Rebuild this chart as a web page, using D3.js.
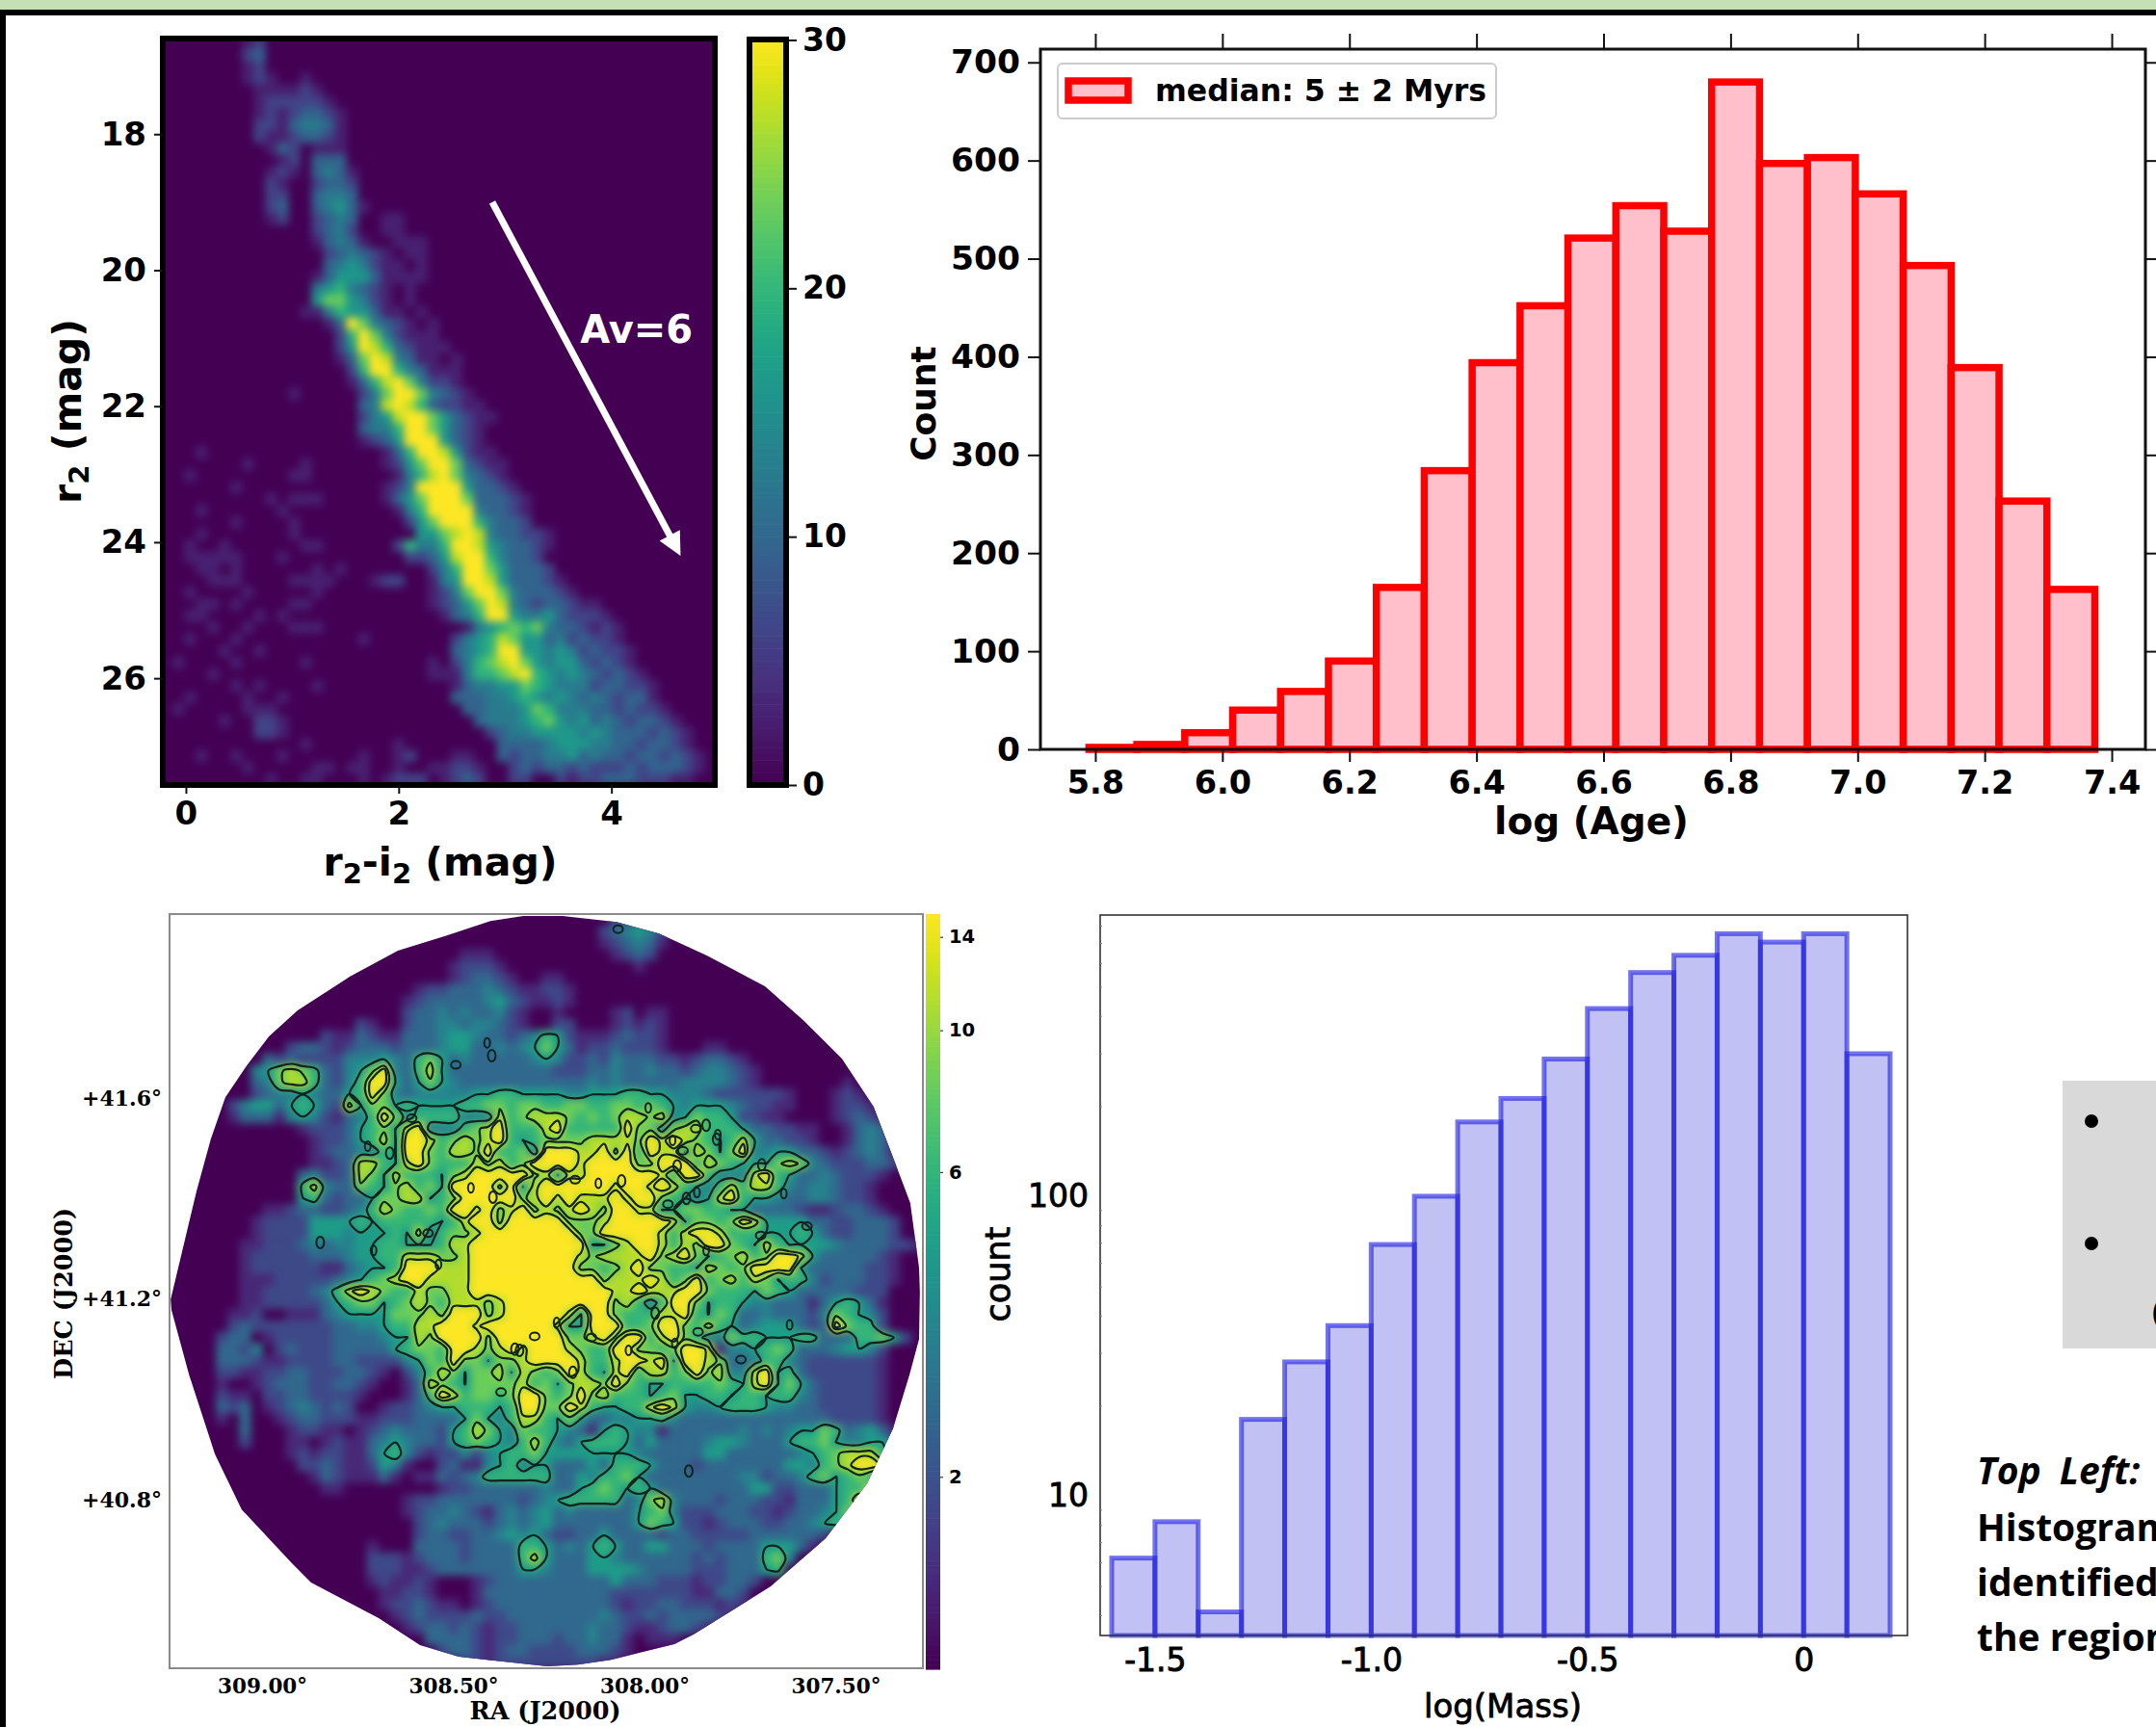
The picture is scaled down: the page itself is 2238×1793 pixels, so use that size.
<!DOCTYPE html>
<html><head><meta charset="utf-8">
<script src="https://cdn.jsdelivr.net/npm/d3@7"></script>
<style>html,body{margin:0;padding:0;background:#fff;overflow:hidden}svg{display:block}</style>
</head><body><svg id="chart" width="2238" height="1793" xmlns="http://www.w3.org/2000/svg"></svg>
<script>
// ---------- Data ----------
const ageBinStart = 5.79, ageBinWidth = 0.0754;
const ageCounts = [2,5,17,40,59,90,165,284,394,452,521,554,528,680,597,603,566,493,389,253,163];
const ageTicks = [5.8,6.0,6.2,6.4,6.6,6.8,7.0,7.2,7.4];
const ageCountTicks = [0,100,200,300,400,500,600,700];
const massBinStart = -1.6, massBinWidth = 0.1;
const massCounts = [6.2,8.2,4.1,18,28,37,69,100,177,212,287,423,558,637,752,705,752,299];
const massTicks = [-1.5,-1,-0.5,0];
const massCountTicks = [10,100];
const massMinorTicks = [4,5,6,7,8,9,20,30,40,50,60,70,80,90,200,300,400,500,600,700,800];
const cmdXTicks = [0,2,4], cmdYTicks = [18,20,22,24,26], cmdBarTicks = [0,10,20,30];
const raTicks = [309,308.5,308,307.5], decTicks = [41.6,41.2,40.8], mapBarTicks = [2,6,10,14];
// digit -> stars per bin
const cmdCounts = [0,2.6,6,9.5,12.5,16,19.5,23,27,31];
// colour-magnitude density, rows top to bottom, 48 columns
const cmdRows = [
"00000 00120 00000 00000 00000 00000 00000 00000 00000 000",
"00000 00230 00000 00000 00000 00000 00000 00000 00000 000",
"00000 00120 00000 00000 00000 00000 00000 00000 00000 000",
"00000 00121 00100 00000 00000 00000 00000 00000 00000 000",
"00000 00011 11210 00000 00000 00000 00000 00000 00000 000",
"00000 00012 22221 00000 00000 00000 00000 00000 00000 000",
"00000 00012 12332 10000 00000 00000 00000 00000 00000 000",
"00000 00022 13443 10000 00000 00000 00000 00000 00000 000",
"00000 00021 12332 10000 00000 00000 00000 00000 00000 000",
"00000 00001 32011 10000 00000 00000 00000 00000 00000 000",
"00000 00000 12033 30000 00000 00000 00000 00000 00000 000",
"00000 00001 21034 31000 00000 00000 00000 00000 00000 000",
"00000 00002 10023 32000 00000 00000 00000 00000 00000 000",
"00000 00002 20034 43000 00000 00000 00000 00000 00000 000",
"00000 00002 30034 53100 00000 00000 00000 00000 00000 000",
"00000 00001 20023 43001 10000 00000 00000 00000 00000 000",
"00000 00000 00023 42001 10000 00000 00000 00000 00000 000",
"00000 00000 00013 43100 11100 00000 00000 00000 00000 000",
"00000 00000 00002 34321 01100 00000 00000 00000 00000 000",
"00000 00000 00003 45421 10100 00000 00000 00000 00000 000",
"00000 00000 00013 55531 11100 00000 00000 00000 00000 000",
"00000 00000 00045 64321 01000 00000 00000 00000 00000 000",
"00000 00000 00057 75421 01000 00000 00000 00000 00000 000",
"00000 00000 00114 65531 10100 00000 00000 00000 00000 000",
"00000 00000 00001 39743 21010 00000 00000 00000 00000 000",
"00000 00000 00000 26974 21110 00000 00000 00000 00000 000",
"00000 00000 00000 25986 32111 00000 00000 00000 00000 000",
"00000 00000 00000 13798 43110 10000 00000 00000 00000 000",
"00000 00000 00000 02699 64311 10000 00000 00000 00000 000",
"00000 00000 00000 01368 97422 10000 00000 00000 00000 000",
"00000 00000 01000 00247 99743 21000 00000 00000 00000 000",
"00000 00000 00000 00348 98632 21100 00000 00000 00000 000",
"00000 00000 00000 00245 89975 32110 00000 00000 00000 000",
"00000 00000 00000 00344 69975 32100 00000 00000 00000 000",
"00000 00000 00000 00123 59995 32100 00000 00000 00000 000",
"00010 00000 00000 00001 36998 52110 00000 00000 00000 000",
"00000 00100 00100 00001 25799 73211 00000 00000 00000 000",
"00100 00000 01100 00000 14689 74321 00000 00000 00000 000",
"00000 01000 00000 00001 24999 95332 10000 00000 00000 000",
"00000 00001 01110 00001 35799 97333 21000 00000 00000 000",
"00010 00000 10000 00000 14699 99433 21000 00000 00000 000",
"00000 01000 01000 00000 02579 99643 32000 00000 00000 000",
"00010 00000 01000 00000 00557 89843 32210 00000 00000 000",
"00100 10000 00110 00000 26446 99854 33210 00000 00000 000",
"00111 11000 10000 00000 02235 89964 33200 00000 00000 000",
"00011 01000 00010 10000 00024 69975 33320 00000 00000 000",
"00001 11000 01111 00012 20014 59985 33321 00000 00000 000",
"00100 00100 00010 00000 00012 47997 43332 10000 00000 000",
"00011 01000 01100 00000 00012 35798 43233 21100 00000 000",
"00110 00010 10000 00000 00001 34699 54453 22210 00000 000",
"00001 00100 01110 00000 00000 01456 76743 32121 00000 000",
"00100 01000 00000 00100 00000 24568 75534 23221 00000 000",
"00000 10010 00000 00000 00000 34569 95545 42322 10000 000",
"01000 01000 00100 00000 00010 24678 97545 53232 10000 000",
"00001 00000 00000 00000 00011 14667 89654 54323 21000 000",
"00000 01010 00010 00000 00000 13445 57654 44233 22100 000",
"00100 00100 10000 00000 00000 33344 56545 43432 33100 000",
"01000 00111 00000 00000 00000 03344 45764 44332 32210 000",
"00000 10022 10000 00000 00000 00344 45675 45343 23321 000",
"00000 00022 10000 00000 00000 00023 44555 54543 33232 100",
"00000 00000 00100 00000 10000 00003 33345 55443 32332 100",
"00010 01000 10000 00100 12000 11003 23344 53433 23323 210",
"00000 00100 00011 01100 10011 22100 23233 23222 32333 210",
"00000 00001 00110 00101 22201 23200 22002 12233 32221 100"
];
// digit -> sources per beam (log colour scale)
const mapCounts = [1,1.35,1.83,2.47,3.33,4.5,6.08,8.2,11.1,15.2];
// surface density, rows top to bottom, 65 columns
const mapRows = [
"00000 00000 00000 00000 00000 00000 00000 00022 32000 00000 00000 00000 00000",
"00000 00000 00000 00000 00000 00000 00000 00234 54200 00000 00000 00000 00000",
"00000 00000 00000 00000 00000 00000 00000 00123 43100 00000 00000 00000 00000",
"00000 00000 00000 00000 00000 11100 00000 00012 32000 00000 00000 00000 00000",
"00000 00000 00000 00000 00001 22210 00000 00000 10000 00000 00000 00000 00000",
"00000 00000 00000 00000 00001 23321 00110 00000 00000 00000 00000 00000 00000",
"00000 00000 00000 00000 01223 33432 11221 00000 00000 00000 00000 00000 00000",
"00000 00000 00000 00000 12333 33453 21121 00000 00000 00000 00000 00000 00000",
"00000 00000 00000 00000 23343 43342 10010 00012 01100 00000 00000 00000 00000",
"00000 00000 00000 02100 23344 34432 10022 00012 12100 00000 00000 00000 00000",
"00000 00000 00021 13211 33345 54332 34652 11123 22100 00000 00000 00000 00000",
"00000 00000 23321 23332 33345 53343 45753 12232 22100 01100 00000 00000 00000",
"00000 00032 32222 44454 36753 43333 34542 23243 33221 23321 00000 00000 00000",
"00000 00457 87632 45794 36853 33333 33322 23343 34332 34432 10000 00000 00000",
"00000 00347 88632 46995 35754 33333 33333 34343 33334 44432 10000 00010 00000",
"00000 00234 45433 56974 34444 45566 55554 45556 65544 43222 22210 00121 00000",
"00000 24553 56532 85775 65555 66776 77667 76677 67654 55543 22110 00122 10000",
"00000 13331 45421 34697 46666 44486 78887 67678 87845 76652 21100 00123 21000",
"00000 00000 01222 35675 89444 67896 66896 66669 77478 86665 33221 10013 43100",
"00000 00000 00122 35685 99867 87896 56777 78888 79898 76568 53322 10013 43100",
"00000 00000 00123 34465 99768 87966 74999 88979 69885 87579 44553 32123 43100",
"00000 00000 00112 38865 89766 68786 79999 89999 77999 68765 55787 43222 33200",
"00000 00000 03422 38758 66657 89999 97858 89999 99869 96444 89653 34322 21000",
"00000 00000 06843 37657 86759 99979 58999 99989 98986 54686 88643 44322 10000",
"00000 00000 05632 33577 88567 99999 78989 88898 99765 45896 55433 44322 10000",
"00000 00011 23322 34687 66769 98978 97878 98799 88557 76655 33332 11233 21000",
"00000 00122 22555 56566 66656 89979 99997 77899 99985 77679 85555 33223 33200",
"00000 00122 22555 45556 58467 78999 99999 77999 99868 99866 65556 53223 33200",
"00000 01122 23434 45566 55568 89999 99999 95578 99868 79976 58655 55433 33221",
"00000 01222 22333 45566 88877 89999 99999 87888 89789 75678 67998 53333 32100",
"00000 01222 22211 34556 99988 89999 99999 77678 97766 58767 99995 33333 22100",
"00000 01112 22223 45678 99888 89999 99999 99788 89867 96786 87566 42333 22100",
"00000 01122 22346 89876 68778 89999 99999 99988 98889 97666 57653 33332 22000",
"00000 01122 22235 67756 78768 88789 99999 99978 64699 75665 44333 13565 31000",
"00000 11200 11134 55557 77879 99789 99998 59976 66889 65763 34333 24765 42000",
"00000 23222 22223 34456 68899 98999 99985 59996 67997 68653 45553 23976 62000",
"00002 33012 22223 33345 58799 99799 99997 78979 96897 64476 65556 63336 67520",
"00003 32402 32223 33335 67769 98789 89998 76699 77679 98144 56763 33455 42000",
"00003 33211 22223 32222 45769 77577 89999 86689 98959 98733 46643 22222 21000",
"00002 21122 33222 33210 24687 57785 87679 86589 68867 97844 89563 22222 21000",
"00001 00123 33223 32100 13876 57777 86757 88797 65566 66765 89575 32222 21000",
"00002 11022 33222 21000 13698 67767 99767 97866 65675 56656 65664 32222 21000",
"00003 23012 34323 20012 23455 66656 99779 86556 68985 44566 65443 32222 21000",
"00001 03001 23322 21122 23333 57546 88657 53344 55643 33333 33333 33222 21000",
"00000 03000 12211 01234 33325 68754 76654 31565 44133 33334 34345 57634 53100",
"00000 02000 11012 11345 43325 67654 68643 56665 35333 34554 33356 67544 55300",
"00000 00000 12122 11356 42122 42456 67555 55555 43333 35533 33334 56788 86300",
"00000 00000 02232 11254 10023 11456 45533 35366 65333 23333 33355 46789 98400",
"00000 00000 00132 11131 01132 34666 66633 54667 53333 33334 42334 67567 64200",
"00000 00000 00011 00000 00012 23333 33433 56765 65333 33333 55223 33566 86300",
"00000 00000 00000 00000 12233 33333 23456 66663 47843 33233 32213 33569 50000",
"00000 00000 00000 00000 12334 32134 34534 33333 56742 22333 22123 34575 30000",
"00000 00000 00000 00000 02343 33234 34533 33333 57652 21233 32233 45660 00000",
"00000 00000 00000 00000 02332 23345 45322 33533 33233 22222 33333 32000 00000",
"00000 00000 00000 00100 03333 23333 66534 35653 35533 32333 35553 10000 00000",
"00000 00000 00000 00222 12333 23333 68533 35543 33333 23233 36740 00000 00000",
"00000 00000 00000 00222 11233 33333 55433 35555 43333 22233 35600 00000 00000",
"00000 00000 00000 00121 12100 01233 33333 33353 33222 12233 20000 00000 00000",
"00000 00000 00000 00011 22100 01333 33333 33322 22222 11332 00000 00000 00000",
"00000 00000 00000 00012 23211 01233 33333 33321 22332 22121 00000 00000 00000",
"00000 00000 00000 00001 23222 23223 33333 33432 23233 33210 00000 00000 00000",
"00000 00000 00000 00000 12332 32122 33333 34332 11233 21000 00000 00000 00000",
"00000 00000 00000 00000 00333 32122 33323 34331 01110 00000 00000 00000 00000",
"00000 00000 00000 00000 00023 32123 32222 33321 00000 00000 00000 00000 00000",
"00000 00000 00000 00000 00000 22122 22222 22110 00000 00000 00000 00000 00000"
];
const footprintRA = [308.317,308.214,308.073,307.962,307.836,307.685,307.584,307.484,307.401,307.343,307.305,307.282,307.280,307.282,307.307,307.350,307.418,307.526,307.670,307.872,307.922,308.088,308.174,308.254,308.486,308.587,308.695,308.872,308.922,309.053,309.123,309.191,309.237,309.239,309.199,309.171,309.134,309.096,309.040,308.982,308.907,308.771,308.645,308.519,308.403];
const footprintDec = [41.963,41.963,41.951,41.928,41.884,41.823,41.755,41.679,41.583,41.468,41.391,41.262,41.214,41.120,41.049,40.942,40.832,40.723,40.627,40.531,40.512,40.481,40.471,40.468,40.487,40.510,40.564,40.635,40.673,40.780,40.890,41.049,41.178,41.199,41.327,41.416,41.519,41.602,41.665,41.723,41.775,41.842,41.894,41.924,41.953];
const contourCounts = [4.6,9.1,12.3];
// small closed contours seen on the map, in map-grid columns and rows
const islandCols = [27.4,27.8,24.7,17.1,19,20.9,17.6,13,22.3,26,27.9,38.7,41.3,46.3,45.4,47.3,47.2,44.3,43.4,43.8,35,37,39,43,45.5,44.6,51,53,51.1,55,46.3,44.8,45.6,43.6,30.2,31.5,33.4,29.8,36.4,39.6,41.9,49.3,53.5,34.8,28.6,23.2];
const islandRows = [11.1,12.2,13,20,20.6,17.6,29,28.3,27.5,23.6,24.4,1.3,16.7,18.2,18.5,19,19.4,20.4,19.5,21.7,22.9,23.2,23,25,24,24.5,27.7,24.1,21.6,26.9,29,48,36,37,37.6,36.4,35.2,37.5,36.5,37.6,34.4,38.4,35.4,39.5,41.2,30.2,33.7];
const legendLabel = "median: 5 ± 2 Myrs";
const captionLines = ["Histogram","identified","the region"];

// ---------- Helpers ----------
const svg = d3.select("#chart");
const SANS = "'DejaVu Sans'", SERIF = "'DejaVu Serif'";
const defs = svg.append("defs");
function blurFilter(id, sd){
  defs.append("filter").attr("id",id).attr("filterUnits","userSpaceOnUse")
    .attr("x",0).attr("y",0).attr("width",2238).attr("height",1793)
    .attr("color-interpolation-filters","sRGB")
    .append("feGaussianBlur").attr("stdDeviation",sd);
}
blurFilter("blurCmd",4.2); blurFilter("blurMap",4.2);
function styleAxis(g,o){
  g.selectAll("text").attr("font-family",o.family||SANS).attr("font-size",o.size)
    .attr("font-weight",o.weight||"bold").attr("fill","#000");
  if(o.stroke) g.selectAll("text").attr("stroke","#000").attr("stroke-width",o.stroke);
  g.selectAll("line").attr("stroke",o.tickColor||"#111").attr("stroke-width",o.tickWidth||2);
  g.selectAll(".domain").remove();
}
function parseRows(rows){return rows.map(r=>r.replace(/ /g,"").split("").map(Number));}

// ---------- Page furniture ----------
svg.append("rect").attr("width",2238).attr("height",10).attr("fill","#c5e0b4");
svg.append("rect").attr("y",10).attr("width",2238).attr("height",6).attr("fill","#000");
svg.append("rect").attr("x",0).attr("y",10).attr("width",6).attr("height",1783).attr("fill","#000");

// ---------- Panel 1 : colour-magnitude heat map ----------
(function(){
  const L=169,R=742,T=40,B=815;
  const x=d3.scaleLinear().domain([-0.235,4.99]).range([L-2,R+2]);
  const y=d3.scaleLinear().domain([16.58,27.57]).range([T-1,B]);
  const color=d3.scaleSequential(d3.interpolateViridis).domain([0,30]);
  const grid=parseRows(cmdRows);
  const colB=d3.scaleLinear().domain([0,48]).range(x.domain());
  const rowB=d3.scaleLinear().domain([0,64]).range(y.domain());
  defs.append("clipPath").attr("id","clipCmd").append("rect").attr("x",L).attr("y",T).attr("width",R-L).attr("height",B-T);
  const outer=svg.append("g").attr("clip-path","url(#clipCmd)");
  outer.append("rect").attr("x",L).attr("y",T).attr("width",R-L).attr("height",B-T).attr("fill",color(0));
  const cells=outer.append("g").attr("filter","url(#blurCmd)");
  grid.forEach((row,r)=>row.forEach((d,c)=>{
    if(!d) return;
    cells.append("rect").attr("x",x(colB(c))).attr("y",y(rowB(r)))
      .attr("width",x(colB(c+1))-x(colB(c))+.5).attr("height",y(rowB(r+1))-y(rowB(r))+.5)
      .attr("fill",color(cmdCounts[d]));
  }));
  svg.append("rect").attr("x",L).attr("y",T).attr("width",R-L).attr("height",B-T)
    .attr("fill","none").attr("stroke","#000").attr("stroke-width",6);
  // extinction arrow
  const ax0=x(2.88),ay0=y(19.0),ax1=x(4.65),ay1=y(24.2);
  const ang=Math.atan2(ay1-ay0,ax1-ax0),h=24,w=12;
  svg.append("line").attr("x1",ax0).attr("y1",ay0).attr("x2",ax1-Math.cos(ang)*10).attr("y2",ay1-Math.sin(ang)*10)
    .attr("stroke","#fff").attr("stroke-width",7);
  svg.append("path").attr("fill","#fff").attr("d",`M${ax1},${ay1}L${ax1-h*Math.cos(ang)+w*Math.sin(ang)},${ay1-h*Math.sin(ang)-w*Math.cos(ang)}L${ax1-h*Math.cos(ang)-w*Math.sin(ang)},${ay1-h*Math.sin(ang)+w*Math.cos(ang)}Z`);
  svg.append("text").attr("x",x(4.235)).attr("y",y(20.92)).attr("text-anchor","middle").attr("fill","#fff")
    .attr("font-family",SANS).attr("font-weight","bold").attr("font-size",40).attr("dominant-baseline","middle").text("Av=6");
  const ax=svg.append("g").attr("transform",`translate(0,${B})`).call(d3.axisBottom(x).tickValues(cmdXTicks).tickFormat(d3.format("d")).tickSize(9).tickPadding(8));
  styleAxis(ax,{size:34});
  const ay=svg.append("g").attr("transform",`translate(${L},0)`).call(d3.axisLeft(y).tickValues(cmdYTicks).tickSize(9).tickPadding(8));
  styleAxis(ay,{size:34});
  const xl=svg.append("text").attr("x",457).attr("y",909).attr("text-anchor","middle").attr("font-family",SANS).attr("font-weight","bold").attr("font-size",41);
  xl.append("tspan").text("r");xl.append("tspan").attr("font-size",29).attr("dy",8).text("2");xl.append("tspan").attr("dy",-8).text("-i");xl.append("tspan").attr("font-size",29).attr("dy",8).text("2");xl.append("tspan").attr("dy",-8).text(" (mag)");
  const yl=svg.append("text").attr("transform","translate(84,427) rotate(-90)").attr("text-anchor","middle").attr("font-family",SANS).attr("font-weight","bold").attr("font-size",41);
  yl.append("tspan").text("r");yl.append("tspan").attr("font-size",29).attr("dy",8).text("2");yl.append("tspan").attr("dy",-8).text(" (mag)");
  // colour bar
  const cy=d3.scaleLinear().domain([0,30]).range([815,41.5]);
  const bar=svg.append("g");
  d3.range(0,30,.25).forEach(v=>bar.append("rect").attr("x",775).attr("width",44).attr("y",cy(v+.25)).attr("height",cy(v)-cy(v+.25)+.6).attr("fill",color(v)));
  svg.append("rect").attr("x",778).attr("y",41).attr("width",38).attr("height",774).attr("fill","none").attr("stroke","#000").attr("stroke-width",6);
  const ac=svg.append("g").attr("transform","translate(819,0)").call(d3.axisRight(cy).tickValues(cmdBarTicks).tickSize(8).tickPadding(6));
  styleAxis(ac,{size:33});
})();

// ---------- Panel 2 : age histogram ----------
(function(){
  const L=1080,R=2227,T=51,B=778;
  const x=d3.scaleLinear().domain([5.7136,7.453]).range([L,R]);
  const y=d3.scaleLinear().domain([0,713.5]).range([B,T]);
  svg.append("g").selectAll("rect").data(ageCounts).join("rect")
    .attr("x",(d,i)=>x(ageBinStart+i*ageBinWidth)).attr("width",(d,i)=>x(ageBinStart+(i+1)*ageBinWidth)-x(ageBinStart+i*ageBinWidth))
    .attr("y",d=>y(d)).attr("height",d=>B-y(d)).attr("fill","#ffc0cb").attr("stroke","#ff0000").attr("stroke-width",7.5);
  svg.append("rect").attr("x",L).attr("y",T).attr("width",R-L).attr("height",B-T).attr("fill","none").attr("stroke","#111").attr("stroke-width",3);
  const fmt=d3.format(".1f");
  const ab=svg.append("g").attr("transform",`translate(0,${B})`).call(d3.axisBottom(x).tickValues(ageTicks).tickFormat(fmt).tickSize(13).tickPadding(9));
  styleAxis(ab,{size:33.5});
  const at=svg.append("g").attr("transform",`translate(0,${T})`).call(d3.axisTop(x).tickValues(ageTicks).tickFormat("").tickSize(16));
  styleAxis(at,{size:10});
  const al=svg.append("g").attr("transform",`translate(${L},0)`).call(d3.axisLeft(y).tickValues(ageCountTicks).tickSize(13).tickPadding(8));
  styleAxis(al,{size:34.5});
  const ar=svg.append("g").attr("transform",`translate(${R},0)`).call(d3.axisRight(y).tickValues(ageCountTicks).tickFormat("").tickSize(13));
  styleAxis(ar,{size:10});
  svg.append("text").attr("x",1652).attr("y",866).attr("text-anchor","middle").attr("font-family",SANS).attr("font-weight","bold").attr("font-size",39).text("log (Age)");
  svg.append("text").attr("transform","translate(971,419) rotate(-90)").attr("text-anchor","middle").attr("font-family",SANS).attr("font-weight","bold").attr("font-size",36).text("Count");
  // legend
  svg.append("rect").attr("x",1098).attr("y",66).attr("width",455).attr("height",57).attr("rx",5).attr("fill","#fff").attr("stroke","#cccccc").attr("stroke-width",2);
  svg.append("rect").attr("x",1109).attr("y",84).attr("width",62).attr("height",20).attr("fill","#ffc0cb").attr("stroke","#ff0000").attr("stroke-width",7.5);
  svg.append("text").attr("x",1199).attr("y",105).attr("font-family",SANS).attr("font-weight","bold").attr("font-size",31.5).text(legendLabel);
})();

// ---------- Panel 3 : surface density map ----------
(function(){
  const L=176,R=958,T=949,B=1732;
  const x=d3.scaleLinear().domain([309.242,307.272]).range([L,R]);
  const y=d3.scaleLinear().domain([41.967,40.464]).range([T,B]);
  const t=d3.scaleLog().domain([1,15.2]).range([0,1]);
  const color=v=>d3.interpolateViridis(t(v));
  const grid=parseRows(mapRows);
  const nC=grid[0].length,nR=grid.length;
  const colRA=d3.scaleLinear().domain([0,nC]).range(x.domain());
  const rowDec=d3.scaleLinear().domain([0,nR]).range(y.domain());
  const hull=footprintRA.map((r,i)=>[x(r),y(footprintDec[i])]);
  defs.append("clipPath").attr("id","clipMap").append("polygon").attr("points",hull.map(p=>p.join(",")).join(" "));
  const outer=svg.append("g").attr("clip-path","url(#clipMap)");
  outer.append("rect").attr("x",L).attr("y",T).attr("width",R-L).attr("height",B-T).attr("fill",color(1));
  const cells=outer.append("g").attr("filter","url(#blurMap)");
  grid.forEach((row,r)=>row.forEach((d,c)=>{
    if(!d) return;
    cells.append("rect").attr("x",x(colRA(c))).attr("y",y(rowDec(r)))
      .attr("width",x(colRA(c+1))-x(colRA(c))+.5).attr("height",y(rowDec(r+1))-y(rowDec(r))+.5)
      .attr("fill",color(mapCounts[d]));
  }));
  // contours on the digit grid, thresholds given in counts
  const lvl=v=>t(v)*9;
  const contours=d3.contours().size([nC,nR]).smooth(true).thresholds(contourCounts.map(lvl))(grid.flat());
  const line=d3.line().curve(d3.curveCatmullRomClosed.alpha(.5));
  const rings=[];
  contours.forEach(c=>c.coordinates.forEach(poly=>poly.forEach(ring=>{
    rings.push(ring.slice(0,-1).map(p=>[x(colRA(p[0])),y(rowDec(p[1]))]));
  })));
  const lines=outer.append("g");
  lines.selectAll("path").data(rings).join("path").attr("d",line)
    .attr("fill","none").attr("stroke","#10241c").attr("stroke-width",2.2).attr("stroke-linejoin","round");
  lines.selectAll("ellipse").data(islandCols).join("ellipse")
    .attr("cx",(d)=>x(colRA(d))).attr("cy",(d,i)=>y(rowDec(islandRows[i])))
    .attr("rx",(d,i)=>3+(i%3)).attr("ry",(d,i)=>4+((i+1)%3))
    .attr("fill","none").attr("stroke","#10241c").attr("stroke-width",2);
  svg.append("rect").attr("x",L).attr("y",T).attr("width",R-L).attr("height",B-T).attr("fill","none").attr("stroke","#8a8a8a").attr("stroke-width",2);
  const ab=svg.append("g").attr("transform",`translate(0,${B})`).call(d3.axisBottom(x).tickValues(raTicks).tickFormat(v=>d3.format(".2f")(v)+"°").tickSize(0).tickPadding(11));
  styleAxis(ab,{size:21.5,family:SERIF});
  const al=svg.append("g").attr("transform",`translate(${L},0)`).call(d3.axisLeft(y).tickValues(decTicks).tickFormat(v=>"+"+d3.format(".1f")(v)+"°").tickSize(0).tickPadding(8));
  styleAxis(al,{size:22,family:SERIF});
  svg.append("text").attr("x",566).attr("y",1785).attr("text-anchor","middle").attr("font-family",SERIF).attr("font-weight","bold").attr("font-size",25.5).text("RA (J2000)");
  svg.append("text").attr("transform","translate(75,1343) rotate(-90)").attr("text-anchor","middle").attr("font-family",SERIF).attr("font-weight","bold").attr("font-size",25.5).text("DEC (J2000)");
  // colour bar
  const cy=d3.scaleLog().domain([1,15.2]).range([1733,949]);
  const steps=d3.range(0,160).map(i=>Math.pow(15.2,i/160));
  const bar=svg.append("g");
  steps.forEach((v,i)=>{const v2=Math.pow(15.2,(i+1)/160);
    bar.append("rect").attr("x",961).attr("width",15).attr("y",cy(v2)).attr("height",cy(v)-cy(v2)+.6).attr("fill",color(v));});
  const ac=svg.append("g").attr("transform","translate(976,0)").call(d3.axisRight(cy).tickValues(mapBarTicks).tickFormat(d3.format("d")).tickSize(3).tickPadding(6));
  styleAxis(ac,{size:19.5,tickWidth:1});
  svg.append("text").attr("transform","translate(1048,1323) rotate(-90)").attr("text-anchor","middle").attr("font-family",SANS).attr("font-size",35).attr("stroke","#000").attr("stroke-width",.8).text("count");
})();

// ---------- Panel 4 : mass histogram ----------
(function(){
  const L=1142,R=1980,T=950,B=1698;
  const x=d3.scaleLinear().domain([-1.6-(1154-L)/449,0.2+(R-1962)/449]).range([L,R]);
  const y=d3.scaleLog().domain([3.42,868]).range([B,T]);
  svg.append("g").selectAll("rect").data(massCounts).join("rect")
    .attr("x",(d,i)=>x(massBinStart+i*massBinWidth)).attr("width",(d,i)=>x(massBinStart+(i+1)*massBinWidth)-x(massBinStart+i*massBinWidth))
    .attr("y",d=>y(d)).attr("height",d=>B-y(d)).attr("fill","rgba(55,55,220,.31)").attr("stroke","rgba(30,30,225,.62)").attr("stroke-width",5);
  svg.append("rect").attr("x",L).attr("y",T).attr("width",R-L).attr("height",B-T).attr("fill","none").attr("stroke","#333").attr("stroke-width",1.6);
  const fmt=v=>v===0?"0":d3.format(".1f")(v).replace("−","-");
  const ab=svg.append("g").attr("transform",`translate(0,${B})`).call(d3.axisBottom(x).tickValues(massTicks).tickFormat(fmt).tickSize(0).tickPadding(14));
  styleAxis(ab,{size:33,weight:"normal",stroke:.9});
  const al=svg.append("g").attr("transform",`translate(${L},0)`).call(d3.axisLeft(y).tickValues(massCountTicks).tickFormat(d3.format("d")).tickSize(0).tickPadding(12));
  styleAxis(al,{size:33,weight:"normal",stroke:.9});
  const am=svg.append("g").attr("transform",`translate(${L},0)`).call(d3.axisRight(y).tickValues(massMinorTicks).tickFormat("").tickSize(2));
  styleAxis(am,{size:10,tickWidth:1,tickColor:"#888"});
  svg.append("text").attr("x",1560).attr("y",1783).attr("text-anchor","middle").attr("font-family",SANS).attr("font-size",34).attr("stroke","#000").attr("stroke-width",.8).text("log(Mass)");
})();

// ---------- Clipped text at the right edge ----------
svg.append("rect").attr("x",2141).attr("y",1122).attr("width",97).attr("height",278).attr("fill","#d9d9d9");
[1164,1291].forEach(cy=>svg.append("ellipse").attr("cx",2171).attr("cy",cy).attr("rx",7).attr("ry",7).attr("fill","#000"));
svg.append("text").attr("x",2234).attr("y",1373).attr("font-family","'Open Sans'").attr("font-weight","bold").attr("font-size",32).text("(");
svg.append("text").attr("x",2052).attr("y",1541).attr("font-family","'Open Sans'").attr("font-weight","bold").attr("font-style","italic").attr("font-size",39).attr("word-spacing",9).text("Top Left:");
captionLines.forEach((s,i)=>svg.append("text").attr("x",2052).attr("y",1600+i*57).attr("font-family","'Open Sans'").attr("font-weight","bold").attr("font-size",39).text(s));
</script></body></html>
